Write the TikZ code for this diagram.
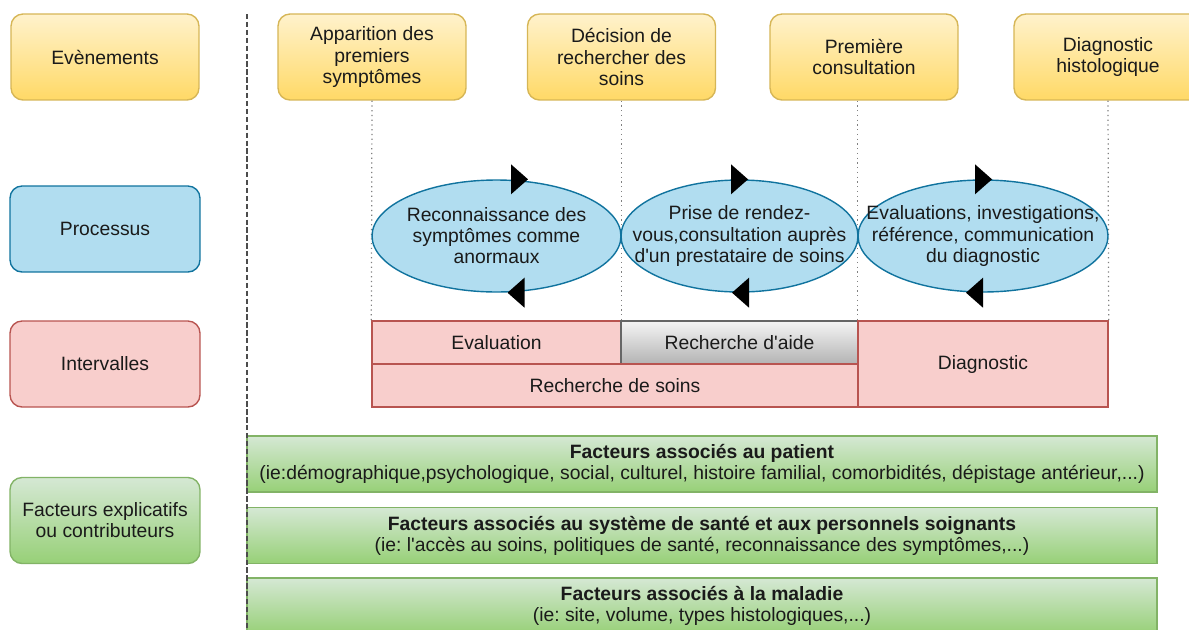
\documentclass[tikz,border=0pt]{standalone}
\usepackage{fontspec}
\setmainfont{Liberation Sans}
\frenchspacing
\usetikzlibrary{shapes.geometric,calc}

\definecolor{evtop}{HTML}{FFF2CC}
\definecolor{evbot}{HTML}{FFD966}
\definecolor{evline}{HTML}{D6B656}
\definecolor{prfill}{HTML}{B1DDF0}
\definecolor{prline}{HTML}{10739E}
\definecolor{ivfill}{HTML}{F8CECC}
\definecolor{ivline}{HTML}{B85450}
\definecolor{fctop}{HTML}{D5E8D4}
\definecolor{fcbot}{HTML}{97D077}
\definecolor{fcline}{HTML}{82B366}
\definecolor{grtop}{HTML}{F5F5F5}
\definecolor{grbot}{HTML}{B3B3B3}
\definecolor{grline}{HTML}{666666}
\definecolor{txt}{HTML}{1A1A1A}

\begin{document}
\begin{tikzpicture}[x=0.02cm,y=-0.02cm,font=\fontsize{11}{12}\selectfont,
  box/.style={rounded corners=0.24cm,minimum width=3.8cm,minimum height=1.72cm,
    align=center,inner sep=0pt,line width=0.8pt,text=txt},
  evbox/.style={box,draw=evline,top color=evtop,bottom color=evbot,minimum width=3.76cm},
  prbox/.style={box,draw=prline,fill=prfill},
  ivbox/.style={box,draw=ivline,fill=ivfill},
  fcbox/.style={box,draw=fcline,top color=fctop,bottom color=fcbot},
  proc/.style={ellipse,draw=prline,fill=prfill,line width=0.8pt,minimum height=2.24cm,
    align=center,inner xsep=-0.9cm,inner ysep=0pt,text=txt},
  interval/.style={rectangle,draw=ivline,fill=ivfill,line width=0.8pt,minimum height=0.86cm,
    inner sep=0pt,text=txt},
  factor/.style={rectangle,draw=fcline,top color=fctop,bottom color=fcbot,line width=0.8pt,
    minimum width=18.2cm,minimum height=1.12cm,inner sep=0pt,align=center,text=txt},
  guide/.style={gray,dotted,line width=0.7pt},
  sepline/.style={black!70,dash pattern=on 3pt off 1.5pt,line width=0.8pt},
  tipfill/.style={fill=black}]
\useasboundingbox (0,0) rectangle (1189,629);
\clip (0,0) rectangle (1189,629);

% colonne de gauche
\node[evbox] (lev) at (105,57) {Evènements};
\node[prbox] (lpr) at (105,229) {Processus};
\node[ivbox] (liv) at (105,364) {Intervalles};
\node[fcbox] (lfc) at (105,520.5) {Facteurs explicatifs\\ou contributeurs};

% evenements
\node[evbox] (ev1) at (372,57) {Apparition des\\premiers\\symptômes};
\node[evbox] (ev2) at (621.5,57) {Décision de\\rechercher des\\soins};
\node[evbox] (ev3) at (864,57) {Première\\consultation};
\node[evbox] (ev4) at (1108,57) {Diagnostic\\histologique};

% intervalles
\node[interval,minimum width=4.98cm] (iv1) at (496.5,342.5) {Evaluation};
\node[interval,minimum width=4.74cm,draw=grline,top color=grtop,bottom color=grbot] (iv2) at (739.5,342.5) {Recherche d\textquotesingle aide};
\node[interval,minimum width=9.72cm] (iv3) at (615,385.5) {Recherche de soins};
\node[interval,minimum width=5cm,minimum height=1.72cm] (iv4) at (983,364) {Diagnostic};

% reperes pointilles
\draw[guide] (ev1.south) -- (iv1.north west);
\draw[guide] (ev2.south -| iv1.north east) -- (iv1.north east);
\draw[guide] (iv4.north west |- ev3.south) -- (iv4.north west);
\draw[guide] (ev4.south) -- (iv4.north east);

% processus
\node[proc,minimum width=4.98cm] (e1) at (496.5,236) {Reconnaissance des\\symptômes comme\\anormaux};
\node[proc,minimum width=4.74cm] (e2) at (739.5,236) {Prise de rendez-\\vous,consultation auprès\\d\textquotesingle un prestataire de soins};
\node[proc,minimum width=5cm] (e3) at (983,236) {Evaluations, investigations,\\référence, communication\\du diagnostic};

\fill[tipfill] ($(e1.north)+(14.5,-15)$) -- ++(17,15) -- ++(-17,15) -- cycle;
\fill[tipfill] ($(e1.south)+(28,-15)$) -- ++(-17,15) -- ++(17,15) -- cycle;
\fill[tipfill] ($(e2.north)+(-8.5,-15)$) -- ++(17,15) -- ++(-17,15) -- cycle;
\fill[tipfill] ($(e2.south)+(9.5,-15)$) -- ++(-17,15) -- ++(17,15) -- cycle;
\fill[tipfill] ($(e3.north)+(-8,-15)$) -- ++(17,15) -- ++(-17,15) -- cycle;
\fill[tipfill] ($(e3.south)+(0,-15)$) -- ++(-17,15) -- ++(17,15) -- cycle;

% facteurs
\node[factor] (f1) at (702,464) {\textbf{Facteurs associés au patient}\\(ie:démographique,psychologique, social, culturel, histoire familial, comorbidités, dépistage antérieur,...)};
\node[factor] (f2) at (702,535.5) {\textbf{Facteurs associés au système de santé et aux personnels soignants}\\(ie: l\textquotesingle accès au soins, politiques de santé, reconnaissance des symptômes,...)};
\node[factor] (f3) at (702,606) {\textbf{Facteurs associés à la maladie}\\(ie: site, volume, types histologiques,...)};

\coordinate (septop) at (247,14);
\coordinate (sepbot) at (247,629);
\draw[sepline] (septop) -- (sepbot);
\end{tikzpicture}
\end{document}
